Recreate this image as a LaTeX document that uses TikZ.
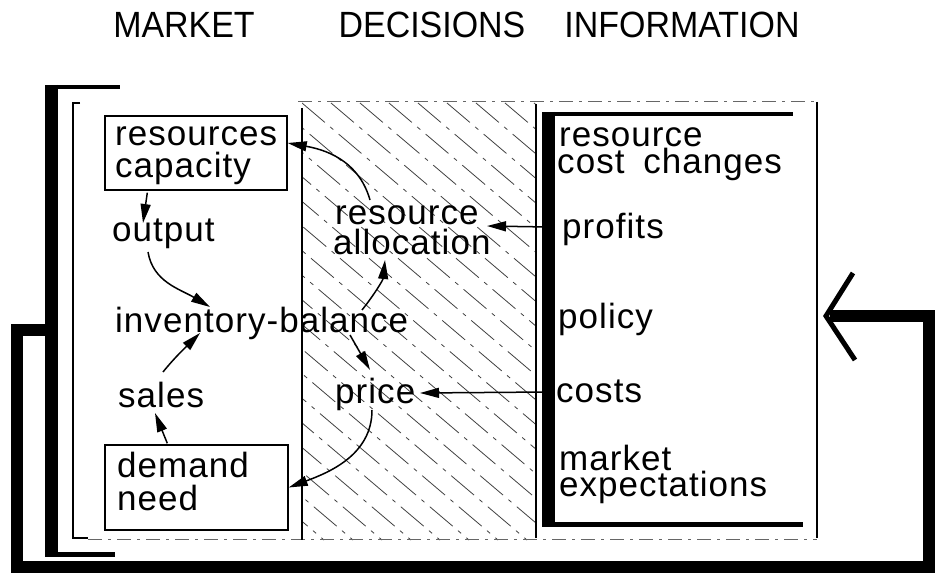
\documentclass[tikz,border=0pt]{standalone}
\usepackage{fontspec}
\setmainfont{Liberation Sans}
\newfontfamily\titlefont[FakeStretch=0.93]{Liberation Sans}
\newfontfamily\bodyfont[LetterSpace=3]{Liberation Sans}
\usetikzlibrary{arrows.meta,calc}
\newcommand\twoline[3]{\vtop{\baselineskip=#1\lineskiplimit=-100pt\lineskip=0pt\hbox{#2}\hbox{#3}}}
\begin{document}
\begin{tikzpicture}[x=1pt,y=-1pt,
  txt/.style={anchor=base west,inner sep=0pt,font=\bodyfont\fontsize{35}{35}\selectfont},
  ttl/.style={anchor=base,inner sep=0pt,font=\titlefont\fontsize{36.5}{36.5}\selectfont},
  boxst/.style={draw,line width=1.4pt,inner sep=0pt},
  arr/.style={line width=1.5pt,-{Triangle[length=19pt,width=10pt]}},
  thinln/.style={line width=1.2pt},
  faint/.style={line width=1pt,black!60,dash pattern=on 14pt off 6pt on 3pt off 6pt},
  hatch/.style={line width=0.8pt,black!75,dash pattern=on 30pt off 7pt on 4pt off 7pt},
  fbst/.style={line width=12pt,line join=miter},
]
\useasboundingbox (0,0) rectangle (935,583);

% titles
\node[ttl] (tm) at (184,38) {MARKET};
\node[ttl] (td) at (432,38) {DECISIONS};
\node[ttl] (ti) at (682,38) {INFORMATION};

% hatched decision column
\begin{scope}
\clip (302,103) rectangle (536,540);
\foreach \k in {-19,...,9} {
  \draw[hatch] (302+\k*29,103) -- ++(515,437);
}
\end{scope}

% thin frame lines
\draw[thinln] (80,103) -- (73,103) -- (73,538) -- (88,538);
\draw[faint] (88,539) -- (817,539);
\draw[faint] (298,102) -- (817,102);
\draw[thinln] (817,102) -- (817,538);
\draw[thinln] (302,108) -- (302,540);
\draw[thinln] (536,104) -- (536,538);

% thick left bracket
\coordinate (lbt) at (51.5,85);
\coordinate (lbb) at (51.5,557);
\draw[line width=13pt] (lbt) -- (lbb);
\draw[line width=4pt] (45,87) -- (120,87);
\draw[line width=5pt] (58,554.5) -- (115,554.5);

% thick information bracket
\coordinate (ibt) at (548.5,112);
\coordinate (ibb) at (548.5,527);
\draw[line width=13pt] (ibt) -- (ibb);
\draw[line width=4pt] (548,114) -- (793,114);
\draw[line width=5pt] (548,524.5) -- (803,524.5);

% feedback loop
\coordinate (fbs) at (45,330);
\coordinate (fbtip) at (826,316);
\draw[fbst] (fbs) -- (16.5,330) -- (16.5,566.5) -- (929,566.5) -- (929,316) -- ($(fbtip)+(4,0)$);
\draw[line width=5pt,line join=miter] ($(fbtip)+(27,-43)$) -- (fbtip) -- ($(fbtip)+(29,44)$);

% market column
\node[boxst,minimum width=182pt,minimum height=74pt] (rc) at (196,153) {};
\node[txt] (rct) at (115,146) {\twoline{32pt}{resources}{capacity}};
\node[txt] (out) at (112,241) {output};
\node[txt] (inv) at (115,332) {inventory-balance};
\node[txt] (sales) at (118,407) {sales};
\node[boxst,minimum width=183pt,minimum height=85pt] (dn) at (196.5,487.5) {};
\node[txt] (dnt) at (117,477) {\twoline{33pt}{demand}{need}};

% decisions column
\node[txt] (ra) at (335,225) {\twoline{29pt}{resource}{\kern-2pt allocation}};
\node[txt] (price) at (335,403) {price};

% information column
\node[txt] (ic) at (559,147) {\twoline{27pt}{resource}{\kern-2pt cost\hspace{8pt} changes}};
\node[txt] (prof) at (562,238) {profits};
\node[txt] (pol) at (558,328) {policy};
\node[txt] (costs) at (556,402) {costs};
\node[txt] (mk) at (559,470) {\twoline{26pt}{market}{expectations}};

% connectors
\draw[arr] ($(rc.south west)+(43,2)$) -- ($(out.base west)+(31,-18)$);
\draw[arr] ($(out.base west)+(36,11)$) .. controls +(5,30) and +(-30,-18) .. ($(inv.base west)+(95,-25)$);
\draw[arr] ($(sales.base west)+(45,-35)$) .. controls +(12,-15) and +(-12,12) .. ($(inv.base west)+(85,1)$);
\draw[arr] ($(dn.north west)+(63,-1)$) -- ($(sales.base west)+(37,6)$);
\draw[arr] ($(price.base west)+(37,7)$) .. controls +(0,45) and +(40,-15) .. (dn.east);
\draw[arr] ($(inv.base west)+(247,-22)$) .. controls +(12,-15) and +(-2,20) .. ($(ra.base west)+(50,35)$);
\draw[arr] ($(inv.base west)+(235,3)$) -- ($(price.base west)+(35,-33)$);
\draw[arr] ($(ra.base west)+(35,-25)$) .. controls +(-10,-35) and +(45,8) .. ($(rc.east)+(0,-10)$);
\draw[arr] ($(prof.base west)+(-14,-11)$) -- ($(ra.base west)+(152,1)$);
\draw[arr] ($(costs.base west)+(-8,-10)$) -- ($(price.base west)+(85,-10)$);
\end{tikzpicture}
\end{document}
